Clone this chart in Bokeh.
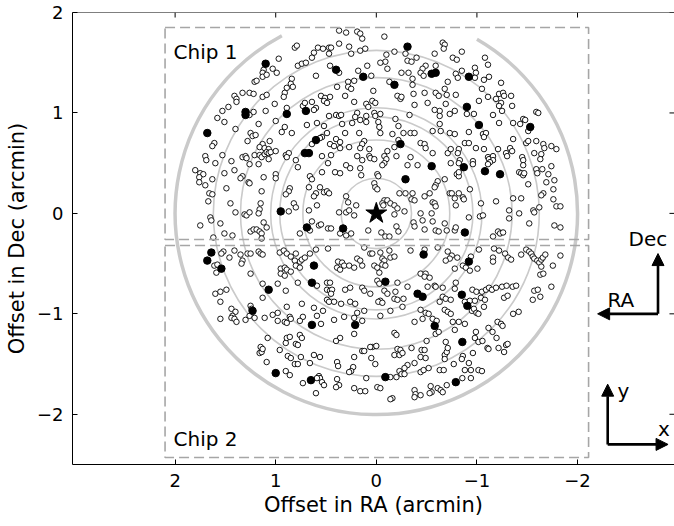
import math
from bokeh.plotting import figure
from bokeh.models import (Range1d, FixedTicker, BoxAnnotation, Label, Arrow, NormalHead, Span)
from bokeh.embed import file_html
from bokeh.resources import INLINE

# Field sources (offsets in arcmin: RA, Dec), grouped by band in declination
field_north = [
    (0.81, 1.65), (0.79, 1.67), (0.97, 1.54), (0.78, 1.47), (0.74, 1.49), (0.70, 1.50), (1.12, 1.43),
    (1.13, 1.40), (1.03, 1.44), (0.99, 1.40), (1.13, 1.36), (1.09, 1.38), (0.84, 1.34), (1.21, 1.31),
    (1.19, 1.32), (0.85, 1.29), (0.83, 1.26), (0.89, 1.25), (1.33, 1.20), (1.26, 1.20), (1.22, 1.19),
    (1.41, 1.17), (1.39, 1.14), (1.39, 1.11), (1.13, 1.16), (1.09, 1.18), (0.91, 1.20), (0.92, 1.16),
    (1.47, 1.06), (1.53, 1.02), (1.01, 1.09), (0.89, 1.05), (0.73, 1.07), (0.71, 1.10), (1.26, 0.98),
    (1.22, 1.01), (1.10, 1.02), (1.58, 0.95), (1.51, 0.91), (1.17, 0.89), (1.00, 0.92), (0.91, 0.86),
    (0.69, 0.88), (1.40, 0.84), (1.25, 0.80), (1.23, 0.77), (1.20, 0.78), (0.94, 0.81), (0.84, 0.80),
    (1.28, 0.72), (1.61, 0.70), (1.63, 0.67), (1.13, 0.69), (1.16, 0.66), (1.11, 0.65), (1.06, 0.72),
    (1.07, 0.64),
    (0.37, 1.82), (0.30, 1.80), (0.19, 1.81), (0.16, 1.79), (0.14, 1.74), (-0.08, 1.76), (-0.66, 1.70),
    (-0.68, 1.68), (-0.67, 1.64), (0.58, 1.65), (0.53, 1.64), (0.47, 1.65), (0.45, 1.65), (0.37, 1.69),
    (0.27, 1.66), (0.16, 1.62), (0.11, 1.64), (0.62, 1.60), (0.64, 1.55), (0.47, 1.59), (0.25, 1.59),
    (-0.10, 1.58), (-0.18, 1.61), (-0.29, 1.59), (-0.40, 1.55), (-0.58, 1.59), (-0.76, 1.55), (-0.09, 1.51),
    (-0.04, 1.50), (-0.31, 1.52), (-0.35, 1.51), (-0.11, 1.44), (0.09, 1.47), (0.18, 1.42), (0.46, 1.47),
    (-0.49, 1.47), (-0.46, 1.44), (-0.44, 1.40), (-0.59, 1.47), (-0.79, 1.39), (0.60, 1.37), (0.37, 1.40),
    (0.05, 1.37), (-0.25, 1.40), (-0.32, 1.40), (-0.36, 1.34), (-0.47, 1.37), (-0.71, 1.31), (0.22, 1.32),
    (0.28, 1.31), (-0.13, 1.31), (-0.36, 1.28), (0.39, 1.26), (0.28, 1.26), (0.25, 1.24), (0.03, 1.22),
    (-0.21, 1.17), (-0.24, 1.14), (-0.25, 1.16), (-0.37, 1.19), (-0.48, 1.20), (-0.59, 1.20), (-0.62, 1.17),
    (-0.68, 1.24), (-0.70, 1.18), (-0.79, 1.18), (0.31, 1.17), (0.55, 1.17), (0.51, 1.15), (0.46, 1.16),
    (0.64, 1.11), (0.52, 1.12), (0.49, 1.10), (0.10, 1.09), (0.08, 1.06), (0.04, 1.12), (0.01, 1.10),
    (0.22, 1.11), (-0.38, 1.08), (-0.51, 1.10), (-0.69, 1.09), (-0.63, 1.02), (0.60, 1.05), (0.62, 1.03),
    (0.47, 0.97), (0.40, 0.98), (0.37, 0.97), (0.35, 0.98), (0.19, 1.00), (0.21, 0.96), (0.10, 0.97),
    (0.02, 1.00), (0.01, 0.97), (-0.04, 0.99), (-0.33, 0.98), (-0.58, 1.03), (-0.63, 0.97), (-0.73, 0.99),
    (-0.78, 1.02), (0.59, 0.90), (0.34, 0.89), (0.24, 0.90), (0.16, 0.93), (0.10, 0.91), (-0.02, 0.91),
    (-0.19, 0.94), (-0.22, 0.87), (0.52, 0.87), (0.49, 0.80), (0.31, 0.80), (0.17, 0.80), (-0.03, 0.86),
    (-0.04, 0.80), (-0.16, 0.79), (-0.27, 0.80), (-0.34, 0.80), (-0.38, 0.80), (-0.56, 0.82), (-0.64, 0.82),
    (-0.73, 0.80), (-0.78, 0.79), (-0.63, 0.89), (0.54, 0.76), (0.56, 0.75), (0.40, 0.74), (0.36, 0.71),
    (0.12, 0.72), (0.14, 0.69), (-0.22, 0.73), (-0.44, 0.70), (-0.48, 0.69), (-0.49, 0.65), (0.64, 0.69),
    (0.46, 0.69), (0.42, 0.67), (0.36, 0.65), (0.27, 0.66), (0.07, 0.64), (0.16, 0.65), (-0.18, 0.66),
    (-0.71, 0.60), (-0.74, 0.64),
    (-0.85, 1.61), (-0.80, 1.53), (-1.08, 1.55), (-1.11, 1.48), (-0.85, 1.42), (-0.81, 1.35), (-0.98, 1.45),
    (-0.99, 1.40), (-0.98, 1.35), (-1.07, 1.33), (-1.12, 1.36), (-1.24, 1.30), (-1.05, 1.24), (-1.11, 1.16),
    (-1.19, 1.14), (-1.22, 1.19), (-1.26, 1.20), (-1.27, 1.17), (-1.34, 1.17), (-1.24, 1.10), (-1.22, 1.07),
    (-1.25, 1.02), (-1.02, 1.12), (-1.35, 1.07), (-1.16, 0.98), (-0.90, 0.99), (-0.97, 0.99), (-1.59, 1.01),
    (-1.61, 1.00), (-1.46, 0.94), (-1.48, 0.93), (-1.43, 0.89), (-1.36, 0.90), (-1.22, 0.90), (-1.51, 0.82),
    (-0.92, 0.81), (-1.06, 0.79), (-1.09, 0.80), (-1.07, 0.76), (-1.36, 0.74), (-1.49, 0.70), (-1.51, 0.72),
    (-0.88, 0.70), (-0.92, 0.70), (-0.99, 0.65), (-1.07, 0.64), (-1.21, 0.64), (-1.33, 0.65), (-1.59, 0.72),
    (-1.66, 0.69), (-1.67, 0.65), (-1.74, 0.67), (-1.79, 0.64), (-0.82, 0.64),
]

field_middle = [
    (1.70, 0.57), (1.69, 0.53), (1.53, 0.58), (1.60, 0.50), (1.44, 0.52), (1.33, 0.56), (1.30, 0.57),
    (1.29, 0.55), (1.21, 0.58), (1.16, 0.58), (1.14, 0.56), (1.11, 0.59), (1.09, 0.61), (1.07, 0.60),
    (1.05, 0.61), (1.00, 0.62), (1.07, 0.54), (1.17, 0.49), (1.26, 0.49), (0.90, 0.58), (0.87, 0.60),
    (0.89, 0.56), (0.80, 0.53), (0.78, 0.46), (1.80, 0.43), (1.75, 0.40), (1.72, 0.39), (1.76, 0.36),
    (1.76, 0.31), (1.63, 0.34), (1.51, 0.40), (1.41, 0.43), (1.33, 0.37), (1.35, 0.35), (1.27, 0.31),
    (1.26, 0.30), (1.12, 0.36), (1.00, 0.39), (1.00, 0.35), (1.70, 0.28), (1.66, 0.20), (1.63, 0.19),
    (1.67, 0.12), (1.49, 0.25), (1.14, 0.22), (0.86, 0.25), (0.87, 0.22), (0.90, 0.19), (1.45, 0.10),
    (1.40, 0.01), (1.15, 0.10), (1.16, 0.04), (1.17, 0.00), (1.31, -0.01), (1.29, -0.02), (1.26, 0.01),
    (0.82, 0.10), (0.80, 0.06), (0.87, 0.02), (1.65, -0.04), (1.64, -0.07), (1.55, -0.10), (1.75, -0.12),
    (1.51, -0.20), (1.43, -0.22), (1.25, -0.18), (1.22, -0.16), (1.19, -0.16), (1.16, -0.18), (1.14, -0.20),
    (1.12, -0.09), (1.09, -0.14), (1.14, -0.25), (1.62, -0.24), (0.76, -0.20), (0.66, -0.17),
    (1.52, -0.38), (1.54, -0.40), (1.41, -0.37), (1.46, -0.44), (1.35, -0.41), (1.28, -0.40), (1.25, -0.40),
    (1.17, -0.38), (1.15, -0.40), (1.13, -0.41), (0.96, -0.39), (0.92, -0.37), (0.89, -0.40), (0.85, -0.43),
    (0.80, -0.40), (0.76, -0.48), (0.74, -0.46), (0.81, -0.47), (0.80, -0.52), (0.71, -0.44), (0.66, -0.40),
    (1.61, -0.52), (1.58, -0.51), (1.59, -0.59), (1.33, -0.47), (1.34, -0.50), (0.95, -0.55), (0.91, -0.54),
    (0.89, -0.56), (0.95, -0.60), (0.91, -0.62), (0.85, -0.58), (0.76, -0.54), (1.25, -0.60), (1.13, -0.70),
    (0.98, -0.70), (0.78, -0.69),
    (0.54, 0.57), (0.45, 0.58), (0.48, 0.50), (0.54, 0.41), (0.41, 0.41), (0.36, 0.40), (0.30, 0.48),
    (0.26, 0.45), (0.19, 0.57), (0.16, 0.45), (0.14, 0.53), (0.07, 0.57), (0.06, 0.55), (0.02, 0.54),
    (-0.08, 0.57), (-0.10, 0.54), (-0.08, 0.50), (-0.11, 0.62), (-0.20, 0.57), (-0.06, 0.48), (-0.01, 0.39),
    (-0.02, 0.37), (-0.31, 0.48), (-0.34, 0.56), (-0.41, 0.48), (-0.56, 0.60), (-0.74, 0.50), (0.15, 0.38),
    (0.66, 0.37), (0.64, 0.34), (0.67, 0.26), (0.56, 0.26), (0.60, 0.20), (0.52, 0.21), (0.49, 0.22),
    (0.47, 0.20), (0.62, 0.17), (0.59, 0.08), (0.67, 0.03), (0.64, -0.08), (0.57, -0.12), (0.55, -0.11),
    (0.48, -0.15), (0.45, -0.15), (0.36, -0.20), (0.30, -0.22), (0.25, -0.20), (0.20, 0.08), (0.30, 0.17),
    (0.28, 0.11), (0.37, 0.01), (0.30, 0.01), (0.27, 0.03), (0.22, -0.02), (0.02, 0.30), (0.01, 0.26),
    (-0.01, 0.24), (-0.08, 0.13), (-0.06, 0.10), (-0.07, 0.08), (-0.11, 0.13), (-0.14, 0.10), (-0.18, 0.08),
    (-0.18, -0.01), (-0.21, 0.05), (-0.28, 0.02), (-0.23, 0.20), (-0.29, 0.20), (-0.36, 0.20), (-0.35, 0.14),
    (-0.38, 0.13), (-0.48, 0.17), (-0.53, 0.20), (-0.56, 0.11), (-0.58, 0.10), (-0.59, 0.07), (-0.61, 0.32),
    (-0.59, 0.28), (-0.58, 0.26), (-0.68, 0.34), (-0.73, 0.20), (-0.75, 0.20), (-0.78, 0.15), (-0.79, 0.08),
    (-0.44, 0.00), (-0.46, -0.07), (-0.37, -0.09), (-0.38, -0.13), (-0.48, -0.16), (-0.55, 0.00), (-0.56, -0.08),
    (-0.68, -0.10), (-0.70, -0.17), (-0.78, -0.17), (-0.59, -0.17), (-0.62, -0.18), (0.08, -0.17), (-0.05, -0.19),
    (-0.09, -0.23), (-0.13, -0.23), (-0.20, -0.13), (-0.22, -0.18),
    (0.60, -0.36), (0.48, -0.35), (0.12, -0.34), (0.06, -0.40), (0.04, -0.40), (-0.04, -0.39), (-0.13, -0.37),
    (-0.14, -0.44), (-0.18, -0.43), (-0.06, -0.45), (-0.08, -0.47), (-0.34, -0.37), (-0.48, -0.36), (-0.61, -0.34),
    (-0.71, -0.38), (-0.75, -0.42), (-0.73, -0.45), (-0.69, -0.47), (-0.78, -0.55), (0.38, -0.48), (0.34, -0.49),
    (0.39, -0.54), (0.36, -0.56), (0.32, -0.52), (0.27, -0.52), (0.19, -0.45), (0.16, -0.47), (0.14, -0.52),
    (0.22, -0.54), (0.02, -0.52), (-0.01, -0.54), (-0.06, -0.51), (-0.09, -0.52), (-0.03, -0.59), (-0.44, -0.60),
    (-0.49, -0.60), (-0.48, -0.63), (-0.53, -0.64), (0.49, -0.69), (0.46, -0.69), (-0.01, -0.67), (-0.03, -0.70),
    (-0.21, -0.69), (-0.31, -0.73), (-0.51, -0.73),
    (-0.81, 0.60), (-0.83, 0.53), (-0.82, 0.50), (-0.80, 0.39), (-0.82, 0.37), (-0.82, 0.41), (-0.96, 0.52),
    (-0.96, 0.49), (-1.11, 0.56), (-1.12, 0.54), (-1.16, 0.57), (-1.16, 0.53), (-1.13, 0.51), (-1.11, 0.49),
    (-1.29, 0.60), (-1.30, 0.57), (-1.35, 0.62), (-1.45, 0.56), (-1.46, 0.53), (-1.46, 0.48), (-1.42, 0.41),
    (-1.44, 0.40), (-1.46, 0.38), (-1.47, 0.40), (-1.51, 0.29), (-1.57, 0.60), (-1.64, 0.59), (-1.63, 0.54),
    (-1.59, 0.44), (-1.60, 0.40), (-1.65, 0.44), (-1.71, 0.39), (-1.74, 0.47), (-1.69, 0.31), (-1.77, 0.33),
    (-1.66, 0.20), (-1.64, 0.18), (-1.76, 0.24), (-1.76, 0.14), (-1.79, 0.07), (-1.83, 0.07), (-1.56, 0.03),
    (-1.57, 0.01), (-1.62, 0.06), (-1.32, 0.03), (-1.36, 0.15), (-1.44, 0.15), (-1.42, 0.00), (-1.32, -0.05),
    (-1.19, 0.12), (-1.04, 0.10), (-0.92, -0.04), (-1.03, -0.03), (-1.06, -0.02), (-0.82, 0.20), (-0.86, 0.16),
    (-0.87, 0.14), (-0.93, 0.24), (-1.52, -0.10), (-1.77, -0.12), (-1.83, -0.14), (-1.21, -0.18), (-1.23, -0.20),
    (-1.26, -0.19), (-1.16, -0.23), (-0.79, -0.14),
    (-1.02, -0.36), (-1.17, -0.35), (-1.22, -0.37), (-1.28, -0.40), (-1.31, -0.44), (-1.34, -0.46), (-1.16, -0.44),
    (-1.16, -0.48), (-1.44, -0.41), (-1.49, -0.36), (-1.52, -0.38), (-1.54, -0.40), (-1.555, -0.43), (-1.57, -0.45),
    (-1.60, -0.47), (-1.62, -0.49), (-1.64, -0.46), (-1.655, -0.44), (-1.68, -0.41), (-1.64, -0.53), (-1.63, -0.61),
    (-1.66, -0.60), (-1.755, -0.52), (-1.83, -0.42), (-0.805, -0.44), (-0.94, -0.43), (-0.86, -0.52), (-0.89, -0.54),
    (-1.005, -0.55), (-0.93, -0.57), (-0.79, -0.69),
]

field_south = [
    (1.60, -0.80), (1.55, -0.78), (1.49, -0.76), (1.55, -0.88), (1.44, -0.95), (1.40, -0.98), (1.43, -1.02),
    (1.44, -1.04), (1.41, -1.05), (1.39, -1.08), (1.55, -1.05), (1.30, -1.06), (1.25, -0.92), (1.24, -0.95),
    (1.26, -1.02), (1.21, -1.04), (1.13, -0.84), (1.11, -1.04), (1.03, -1.01), (0.98, -0.99), (0.98, -1.07),
    (0.91, -1.08), (0.89, -1.09), (0.86, -1.03), (0.85, -1.05), (0.89, -0.93), (0.74, -0.90), (0.73, -1.03),
    (0.76, -1.07), (0.90, -0.77), (1.08, -1.24), (1.15, -1.33), (1.16, -1.39), (1.14, -1.38), (1.13, -1.35),
    (1.09, -1.48), (0.96, -1.36), (0.90, -1.29), (0.89, -1.24), (0.86, -1.23), (0.80, -1.30), (0.78, -1.31),
    (0.76, -1.21), (0.74, -1.24), (0.88, -1.42), (0.85, -1.44), (0.75, -1.43), (0.66, -1.49), (0.81, -1.50),
    (0.78, -1.50), (0.90, -1.57), (0.86, -1.61), (0.73, -1.69),
    (0.59, -0.72), (0.49, -0.76), (0.46, -0.77), (0.44, -0.76), (0.31, -0.76), (0.26, -0.74), (0.14, -0.74),
    (0.12, -0.77), (0.06, -0.80), (-0.08, -0.77), (-0.11, -0.80), (-0.19, -0.78), (-0.18, -0.85), (-0.21, -0.86),
    (-0.27, -0.85), (-0.58, -0.72), (-0.59, -0.73), (-0.66, -0.74), (-0.78, -0.75), (-0.04, -0.87), (-0.02, -0.88),
    (-0.06, -0.89), (-0.26, -0.93), (-0.14, -0.97), (0.49, -0.86), (0.45, -0.80), (0.47, -0.88), (0.42, -0.88),
    (0.35, -0.90), (0.26, -0.88), (0.21, -0.90), (0.62, -0.94), (0.53, -0.97), (0.59, -1.02), (0.42, -1.06),
    (0.32, -1.03), (0.19, -0.99), (0.12, -0.97), (0.22, -1.04), (0.14, -1.07), (-0.04, -1.02), (-0.44, -0.96),
    (-0.49, -0.99), (-0.52, -1.00), (-0.56, -1.05), (-0.60, -1.07), (-0.63, -0.88), (-0.66, -0.83), (-0.69, -0.85),
    (-0.74, -0.86), (-0.68, -0.96), (-0.71, -0.98), (-0.74, -1.00), (-0.38, -1.08), (-0.76, -1.08), (-0.46, -1.05),
    (0.55, -1.10), (0.36, -1.24), (0.40, -1.27), (0.22, -1.20), (-0.18, -1.19), (-0.20, -1.21), (-0.59, -1.20),
    (-0.62, -1.18), (-0.69, -1.28), (-0.50, -1.27), (-0.78, -1.16), (0.14, -1.37), (0.12, -1.37), (0.04, -1.33),
    (0.00, -1.32), (0.06, -1.33), (0.62, -1.41), (0.56, -1.43), (0.22, -1.43), (0.05, -1.44), (0.01, -1.50),
    (-0.18, -1.41), (-0.23, -1.41), (-0.21, -1.35), (-0.24, -1.36), (-0.26, -1.39), (-0.35, -1.34), (-0.45, -1.36),
    (-0.48, -1.36), (-0.44, -1.43), (-0.49, -1.44), (-0.68, -1.41), (-0.70, -1.38), (-0.71, -1.34), (-0.68, -1.45),
    (-0.38, -1.49), (-0.31, -1.51), (-0.28, -1.54), (-0.23, -1.57), (-0.25, -1.60), (-0.28, -1.60), (-0.20, -1.63),
    (-0.14, -1.63), (0.39, -1.48), (0.38, -1.52), (0.23, -1.53), (0.25, -1.57), (0.27, -1.58), (-0.44, -1.58),
    (-0.47, -1.56), (-0.52, -1.54), (-0.63, -1.56), (-0.67, -1.56), (-0.77, -1.50), (0.57, -1.62), (0.56, -1.64),
    (0.59, -1.64), (0.54, -1.68), (0.52, -1.71), (0.39, -1.65), (0.37, -1.71), (0.40, -1.73), (0.10, -1.64),
    (-0.01, -1.73), (-0.04, -1.74), (0.22, -1.74), (0.16, -1.77), (0.11, -1.77), (0.60, -1.79), (-0.16, -1.84),
    (-0.14, -1.85), (-0.38, -1.76), (-0.39, -1.80), (-0.38, -1.83), (-0.44, -1.81), (-0.54, -1.72), (-0.55, -1.78),
    (-0.53, -1.79), (-0.61, -1.74), (-0.64, -1.76), (-0.66, -1.78), (-0.70, -1.71),
    (-0.955, -0.76), (-0.995, -0.78), (-1.05, -0.78), (-1.09, -0.76), (-1.12, -0.74), (-1.15, -0.76), (-1.19, -0.74),
    (-1.25, -0.73), (-1.295, -0.72), (-1.355, -0.73), (-1.39, -0.72), (-1.57, -0.77), (-1.605, -0.76), (-1.63, -0.83),
    (-1.555, -0.86), (-1.74, -0.73), (-0.88, -0.88), (-0.93, -0.87), (-0.98, -0.87), (-1.04, -0.84), (-1.08, -0.86),
    (-1.07, -0.93), (-1.27, -0.84), (-1.305, -0.82), (-0.95, -0.97), (-0.97, -0.95), (-0.995, -0.99), (-1.015, -1.00),
    (-0.82, -1.08), (-0.88, -1.10), (-1.115, -1.14), (-1.155, -1.18), (-1.205, -1.08), (-1.24, -1.10), (-1.255, -1.12),
    (-1.36, -1.00), (-1.415, -0.98), (-0.99, -1.18), (-0.98, -1.24), (-1.015, -1.28), (-1.055, -1.27), (-1.195, -1.24),
    (-1.105, -1.34), (-1.115, -1.35), (-1.215, -1.34), (-1.27, -1.38), (-1.29, -1.31), (-1.305, -1.30), (-0.96, -1.39),
    (-0.86, -1.42), (-0.85, -1.45), (-0.92, -1.49), (-0.88, -1.56), (-0.94, -1.56), (-1.015, -1.56), (-1.05, -1.57),
    (-0.855, -1.64), (-0.94, -1.64),
]

# Sources with a counterpart (filled symbols)
matched = [
    (1.10, 1.49), (1.30, 1.01), (1.30, 0.98), (0.89, 0.99), (0.70, 1.02), (1.68, 0.80), (0.71, 0.60), (0.67, 0.60),
    (-0.31, 1.66), (0.40, 1.43), (0.13, 1.36), (-0.18, 1.28), (-0.55, 1.39), (-0.59, 1.40), (0.60, 0.73),
    (-0.24, 0.69), (-0.92, 1.36), (-0.90, 1.06), (-1.02, 0.88), (-1.53, 0.86), (0.95, 0.02), (0.69, -0.14),
    (1.64, -0.39), (1.68, -0.47), (1.54, -0.55), (1.07, -0.76), (-0.55, 0.47), (-0.29, 0.34), (0.33, -0.15),
    (-0.47, -0.41), (0.62, -0.52), (0.64, -0.69), (-0.09, -0.68), (-0.87, 0.46), (-1.08, 0.42), (-1.23, 0.39),
    (-0.88, -0.19), (-0.92, -0.48), (1.23, -0.97), (0.64, -1.11), (1.00, -1.59), (0.65, -1.66), (-0.41, -0.80),
    (-0.46, -0.83), (0.21, -1.11), (-0.58, -1.12), (-0.09, -1.63), (-0.79, -1.68), (-0.85, -0.81), (-0.905, -0.92),
    (-0.855, -1.28),
]

target = (0.0, 0.0)
ring_radii = [0.35, 0.73, 0.96, 1.05, 1.35, 1.62]
outer_radius = 2.0
outer_arc_deg = (118.0, 60.0)          # outer ring drawn anticlockwise between these angles
chip1 = dict(left=2.10, right=-2.11, bottom=-0.26, top=1.85)
chip2 = dict(left=2.10, right=-2.11, bottom=-2.43, top=-0.32)
ticks = [-2, -1, 0, 1, 2]
tick_text = {-2: "\u22122", -1: "\u22121", 0: "0", 1: "1", 2: "2"}

FONT = "DejaVu Sans"
RING = "#cacaca"
DASH = "#a6a6a6"
X_LO, X_HI = 3.02, -2.964
Y_LO, Y_HI = -2.5, 2.0

p = figure(width=674, height=526, output_backend="svg", toolbar_location=None,
           x_range=Range1d(X_LO, X_HI), y_range=Range1d(Y_LO, Y_HI),
           min_border_left=72, min_border_right=0, min_border_top=12, min_border_bottom=62,
           background_fill_color="white", border_fill_color="white")
p.outline_line_color = None
p.grid.visible = False

for ax in (p.xaxis[0], p.yaxis[0]):
    ax.ticker = FixedTicker(ticks=ticks)
    ax.major_label_overrides = tick_text
    ax.major_tick_in = 5
    ax.major_tick_out = 0
    ax.minor_tick_line_color = None
    ax.axis_line_color = "black"
    ax.major_tick_line_color = "black"
    ax.major_label_text_font = FONT
    ax.major_label_text_font_size = "18px"
    ax.major_label_text_color = "black"
    ax.axis_label_text_font = FONT
    ax.axis_label_text_font_size = "21px"
    ax.axis_label_text_font_style = "normal"
    ax.axis_label_text_color = "black"

p.xaxis.axis_label = "Offset in RA (arcmin)"
p.yaxis.axis_label = "Offset in Dec (arcmin)"
p.xaxis.major_label_standoff = 9
p.xaxis.axis_label_standoff = 3
p.yaxis.major_label_standoff = 9
p.yaxis.axis_label_standoff = 5

# top edge of the frame, with inward tick marks on the top and right edges
p.add_layout(Span(location=Y_HI, dimension="width", line_color="black", line_width=1))
tick_dy = 0.05
p.segment(x0=ticks, y0=[Y_HI] * len(ticks), x1=ticks, y1=[Y_HI - tick_dy] * len(ticks),
          line_color="black", line_width=1)
p.segment(x0=[X_HI] * len(ticks), y0=ticks, x1=[X_HI + tick_dy] * len(ticks), y1=ticks,
          line_color="black", line_width=1)

# background annuli
p.circle(x=[target[0]] * len(ring_radii), y=[target[1]] * len(ring_radii), radius=ring_radii,
         fill_color=None, line_color=RING, line_width=1.6)
p.arc(x=[target[0]], y=[target[1]], radius=[outer_radius],
      start_angle=math.radians(outer_arc_deg[0]), end_angle=math.radians(outer_arc_deg[1]),
      direction="anticlock", line_color=RING, line_width=3.5)

# CCD chip outlines
for chip in (chip1, chip2):
    p.add_layout(BoxAnnotation(left=chip["left"], right=chip["right"], bottom=chip["bottom"],
                               top=chip["top"], fill_color=None, fill_alpha=0,
                               line_color=DASH, line_alpha=1.0,
                               line_width=1.6, line_dash="10 5"))
for x, y, t in ((2.015, 1.61, "Chip 1"), (2.015, -2.25, "Chip 2")):
    p.add_layout(Label(x=x, y=y, text=t, text_font=FONT, text_font_size="20px",
                       text_color="black", text_baseline="alphabetic", text_align="left"))

# field sources
field = field_north + field_middle + field_south
p.scatter([a for a, _ in field], [b for _, b in field], marker="circle", size=5.5,
          fill_color="white", line_color="black", line_width=0.9)
p.scatter([a for a, _ in matched], [b for _, b in matched], marker="circle", size=7.5,
          fill_color="black", line_color="black")
p.scatter([target[0]], [target[1]], marker="star", size=22, fill_color="black", line_color="black")

# orientation arrows: sky (RA/Dec) and detector (x/y)
def arrow(x0, y0, x1, y1):
    p.add_layout(Arrow(x_start=x0, y_start=y0, x_end=x1, y_end=y1, line_width=2.6,
                       line_color="black",
                       end=NormalHead(size=12, fill_color="black", line_color="black")))

sky_corner = (-2.8, -1.0)
det_corner = (-2.3, -2.3)
arrow_len = 0.6
arrow(sky_corner[0], sky_corner[1], sky_corner[0], sky_corner[1] + arrow_len)
arrow(sky_corner[0], sky_corner[1], sky_corner[0] + arrow_len, sky_corner[1])
arrow(det_corner[0], det_corner[1], det_corner[0], det_corner[1] + arrow_len)
arrow(det_corner[0], det_corner[1], det_corner[0] - arrow_len, det_corner[1])

for x, y, t in ((-2.70, -0.25, "Dec"), (-2.43, -0.86, "RA"), (-2.455, -1.77, "y"), (-2.86, -2.15, "x")):
    p.add_layout(Label(x=x, y=y, text=t, text_font=FONT, text_font_size="20px", text_color="black",
                       text_align="center", text_baseline="alphabetic"))

open("out.html", "w").write(file_html(p, INLINE))
